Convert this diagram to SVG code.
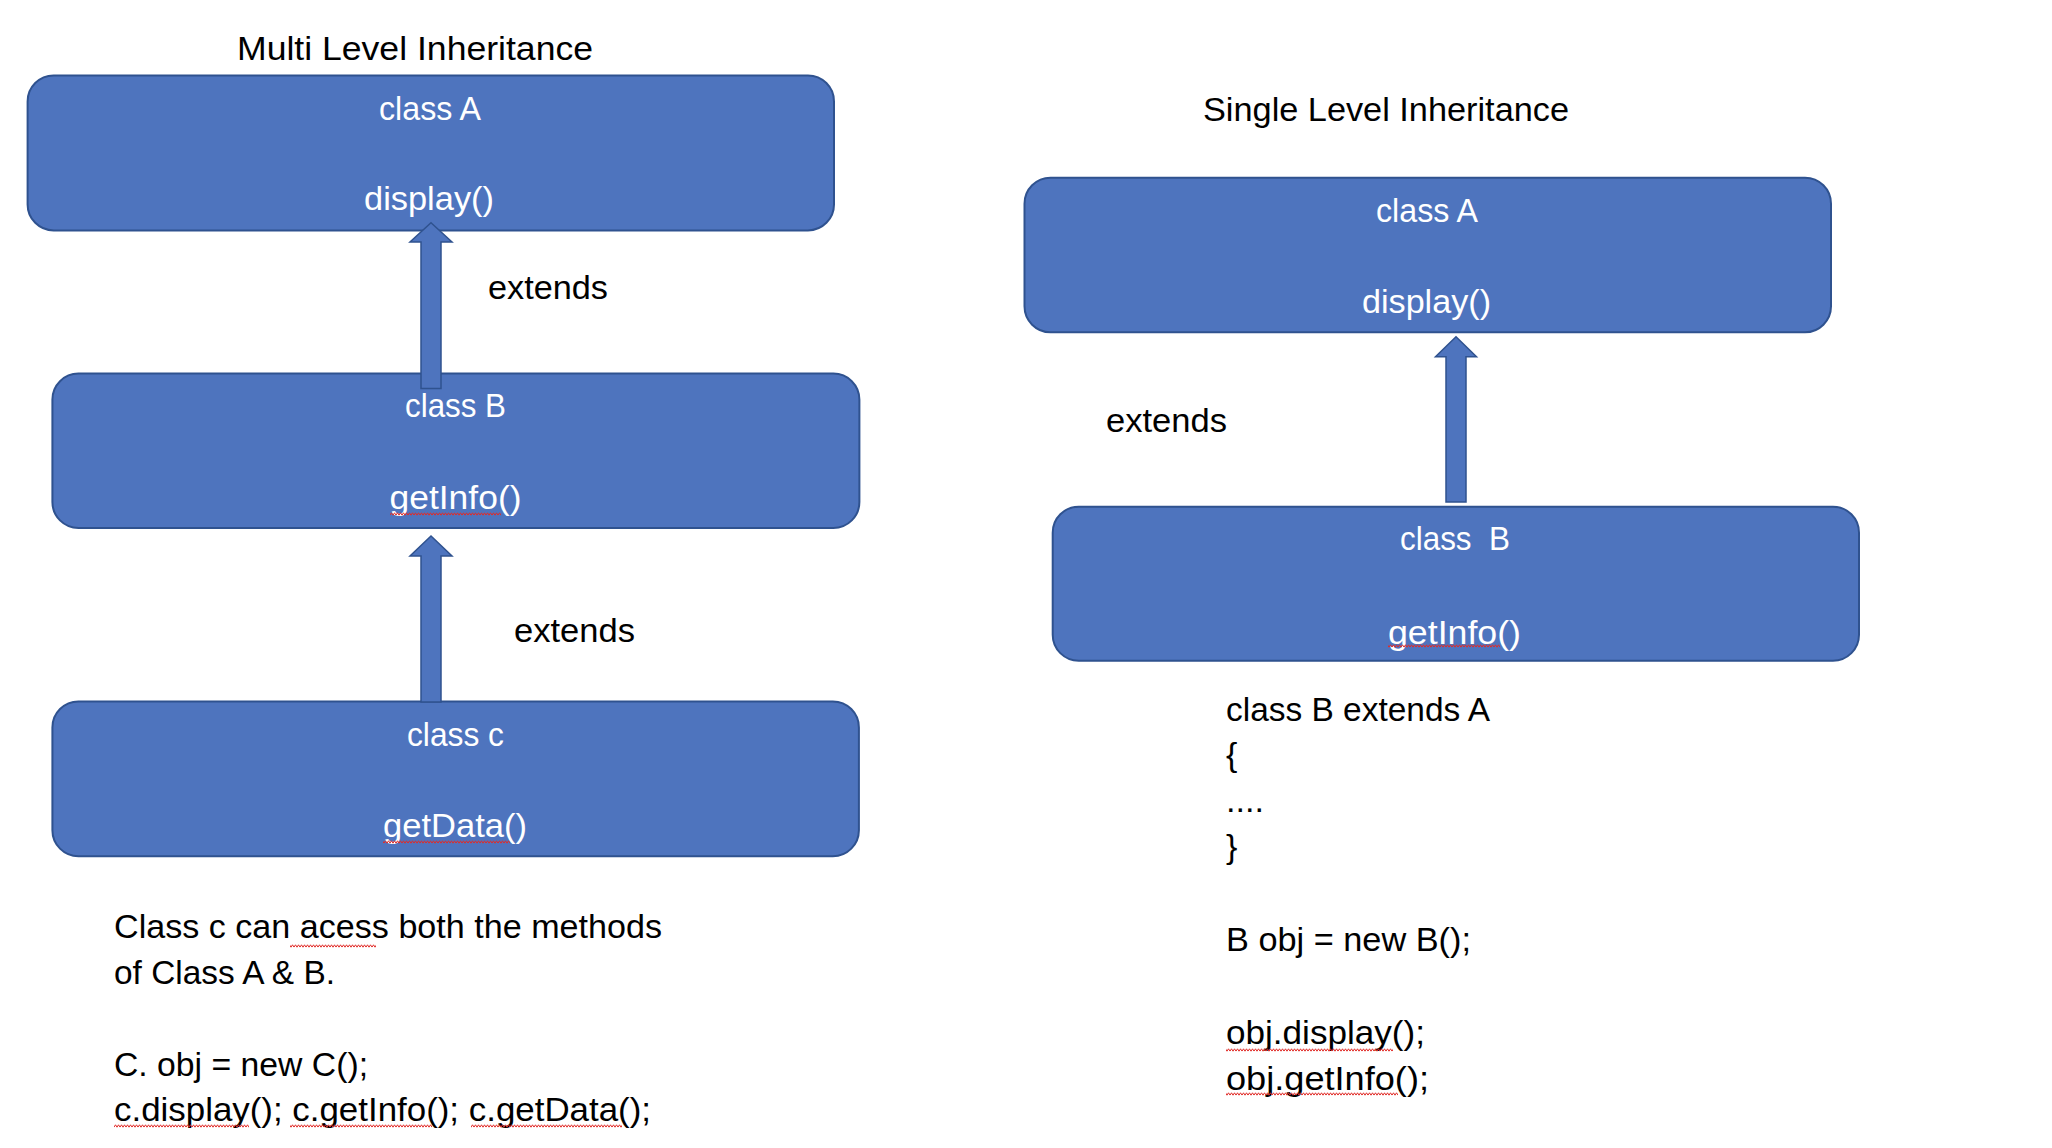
<svg xmlns="http://www.w3.org/2000/svg" width="2052" height="1148" viewBox="0 0 2052 1148">
  <defs>
    <style>
      .box { fill: #4E74BE; stroke: #2F528F; stroke-width: 2; }
      .arrow { fill: #4E74BE; stroke: #2F528F; stroke-width: 1.5; }
      text { font-family: "Liberation Sans", Arial, sans-serif; font-size: 34px; white-space: pre; }
      .w { fill: #FFFFFF; }
      .k { fill: #000000; }
      .sq { fill: url(#squig); }
    </style>
    <pattern id="squig" x="0" y="0" width="6" height="4" patternUnits="userSpaceOnUse">
      <path d="M0 3.2 L1.5 0.8 L3 3.2 L4.5 0.8 L6 3.2" fill="none" stroke="#E02B27" stroke-width="1"/>
    </pattern>
  </defs>
  <rect width="2052" height="1148" fill="#FFFFFF"/>

  <g id="title-multi">
    <text class="k" x="237" y="60" textLength="356" lengthAdjust="spacingAndGlyphs">Multi Level Inheritance</text>
  </g>
  <g id="title-single">
    <text class="k" x="1203" y="121" textLength="366" lengthAdjust="spacingAndGlyphs">Single Level Inheritance</text>
  </g>

  <g id="node-multi-classA">
    <rect class="box" x="27.6" y="75.4" width="806.4" height="155" rx="26" ry="26"/>
    <text class="w" x="379" y="119.5" textLength="102" lengthAdjust="spacingAndGlyphs">class A</text>
    <text class="w" x="364" y="210" textLength="130" lengthAdjust="spacingAndGlyphs">display()</text>
  </g>
  <g id="node-multi-classB">
    <rect class="box" x="52.4" y="373.6" width="807" height="154.4" rx="26" ry="26"/>
    <text class="w" x="405" y="416.5" textLength="101" lengthAdjust="spacingAndGlyphs">class B</text>
    <text class="w" x="389.5" y="509" textLength="132" lengthAdjust="spacingAndGlyphs">getInfo()</text>
    <rect class="sq" x="390" y="512" width="111" height="4"/>
  </g>
  <g id="node-multi-classC">
    <rect class="box" x="52.4" y="701.4" width="806.5" height="154.8" rx="26" ry="26"/>
    <text class="w" x="407" y="745.5" textLength="97" lengthAdjust="spacingAndGlyphs">class c</text>
    <text class="w" x="383" y="837" textLength="144" lengthAdjust="spacingAndGlyphs">getData()</text>
    <rect class="sq" x="383" y="840" width="127" height="4"/>
  </g>
  <g id="node-single-classA">
    <rect class="box" x="1024.5" y="177.7" width="806.5" height="154.6" rx="26" ry="26"/>
    <text class="w" x="1376" y="221.5" textLength="102" lengthAdjust="spacingAndGlyphs">class A</text>
    <text class="w" x="1362" y="313" textLength="129" lengthAdjust="spacingAndGlyphs">display()</text>
  </g>
  <g id="node-single-classB">
    <rect class="box" x="1052.7" y="506.7" width="806.3" height="154" rx="26" ry="26"/>
    <text class="w" x="1400" y="549.5" textLength="110" lengthAdjust="spacingAndGlyphs">class  B</text>
    <text class="w" x="1388" y="643.5" textLength="133" lengthAdjust="spacingAndGlyphs">getInfo()</text>
    <rect class="sq" x="1388" y="644" width="112" height="4"/>
  </g>

  <g id="connectors">
    <path class="arrow" d="M431 222.7 L452 242 L441 242 L441 388.5 L421 388.5 L421 242 L410 242 Z"/>
    <path class="arrow" d="M431 536 L452 556 L441 556 L441 702 L421 702 L421 556 L410 556 Z"/>
    <path class="arrow" d="M1456 336.7 L1476.5 356.7 L1466 356.7 L1466 502 L1446 502 L1446 356.7 L1435.5 356.7 Z"/>
    <text class="k" x="488" y="299" textLength="120" lengthAdjust="spacingAndGlyphs">extends</text>
    <text class="k" x="514" y="642" textLength="121" lengthAdjust="spacingAndGlyphs">extends</text>
    <text class="k" x="1106" y="431.5" textLength="121" lengthAdjust="spacingAndGlyphs">extends</text>
  </g>

  <g id="note-multi">
    <text class="k" x="114" y="938" textLength="548" lengthAdjust="spacingAndGlyphs">Class c can acess both the methods</text>
    <rect class="sq" x="290" y="944" width="86" height="4"/>
    <text class="k" x="114" y="984" textLength="221" lengthAdjust="spacingAndGlyphs">of Class A &amp; B.</text>
    <text class="k" x="114" y="1075.5" textLength="254" lengthAdjust="spacingAndGlyphs">C. obj = new C();</text>
    <text class="k" x="114" y="1121" textLength="537" lengthAdjust="spacingAndGlyphs">c.display(); c.getInfo(); c.getData();</text>
    <rect class="sq" x="114" y="1124" width="135" height="4"/>
    <rect class="sq" x="290" y="1124" width="142" height="4"/>
    <rect class="sq" x="471" y="1124" width="151" height="4"/>
  </g>

  <g id="note-single">
    <text class="k" x="1226" y="720.5" textLength="264" lengthAdjust="spacingAndGlyphs">class B extends A</text>
    <text class="k" x="1226" y="766">{</text>
    <text class="k" x="1226" y="812" textLength="38" lengthAdjust="spacingAndGlyphs">....</text>
    <text class="k" x="1226" y="858">}</text>
    <text class="k" x="1226" y="951" textLength="245" lengthAdjust="spacingAndGlyphs">B obj = new B();</text>
    <text class="k" x="1226" y="1044" textLength="199" lengthAdjust="spacingAndGlyphs">obj.display();</text>
    <rect class="sq" x="1226" y="1048" width="167" height="4"/>
    <text class="k" x="1226" y="1090" textLength="203" lengthAdjust="spacingAndGlyphs">obj.getInfo();</text>
    <rect class="sq" x="1226" y="1092" width="172" height="4"/>
  </g>
</svg>
